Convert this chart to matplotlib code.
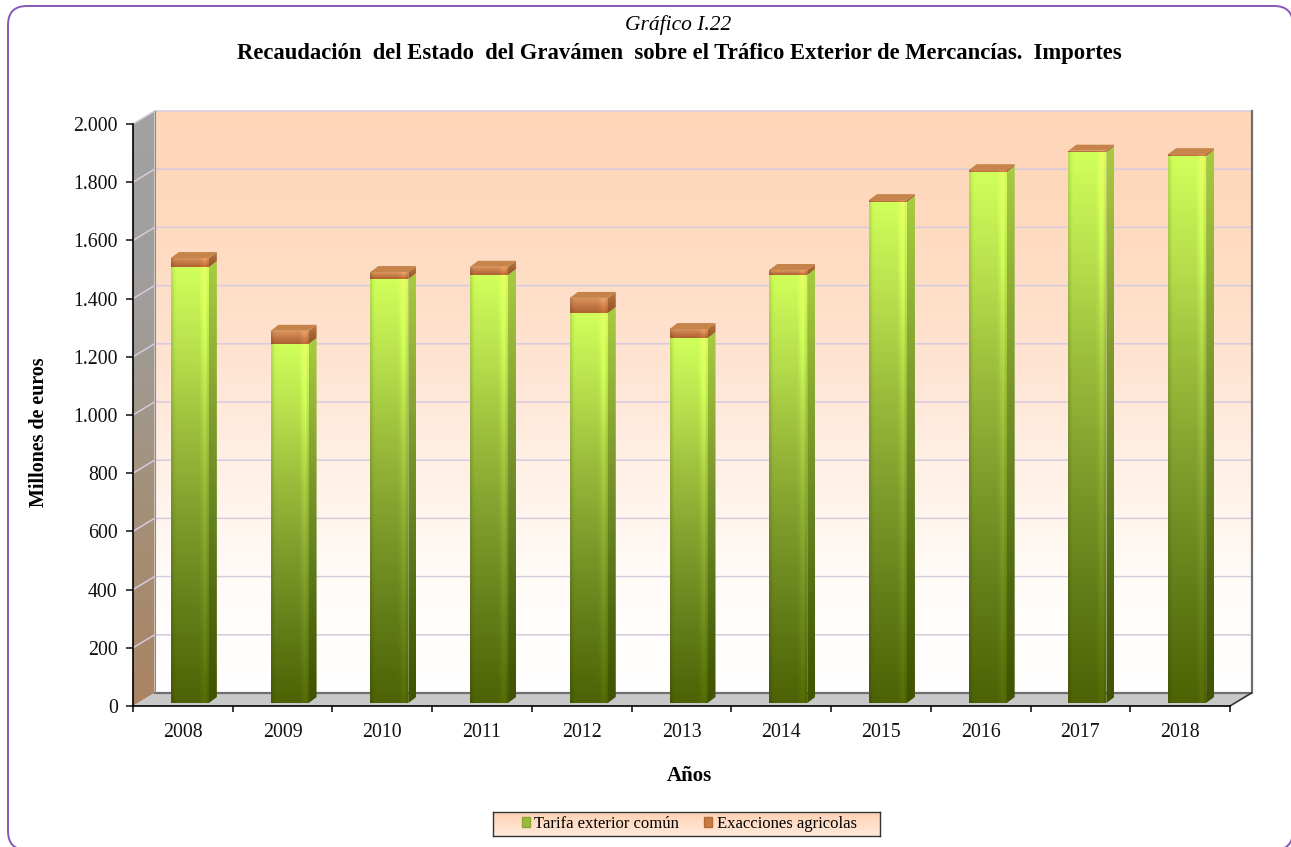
import numpy as np
import matplotlib
matplotlib.use('Agg')
import matplotlib.pyplot as plt
from matplotlib.colors import LinearSegmentedColormap
from matplotlib.patches import FancyBboxPatch, Patch, Polygon
from matplotlib.ticker import FuncFormatter

plt.rcParams['font.family'] = ['Liberation Serif', 'DejaVu Serif']

anios = ['2008', '2009', '2010', '2011', '2012', '2013', '2014', '2015', '2016', '2017', '2018']
tarifa = [1498, 1234, 1457, 1471, 1340, 1254, 1471, 1722, 1825, 1893, 1880]
exacciones = [31, 45, 24, 28, 52, 31, 17, 6, 6, 5, 6]
ticks_y = [0, 200, 400, 600, 800, 1000, 1200, 1400, 1600, 1800, 2000]

W, H = 1291, 847
fig = plt.figure(figsize=(W / 100, H / 100), dpi=100, facecolor='white')

# marco redondeado (se sale un poco por abajo)
marco = fig.add_axes([0, 0, 1, 1], zorder=0)
marco.set_xlim(0, W)
marco.set_ylim(H, 0)
marco.axis('off')
marco.add_patch(FancyBboxPatch((28, 26), W - 46, H + 3 - 46, boxstyle='round,pad=20,rounding_size=19',
                               fc='white', ec='#8A55B8', lw=1.4))

x0, x1, y0, y1 = 133, 1230, 706, 124
ax = fig.add_axes([x0 / W, 1 - y0 / H, (x1 - x0) / W, (y0 - y1) / H], zorder=1)
ax.patch.set_alpha(0)
ax.set_xlim(0, 11)
ax.set_ylim(0, 2000)

# pixeles a unidades de datos
px = 11 / (x1 - x0)
py = 2000 / (y0 - y1)
fondo_x, fondo_y = 21.5 * px, 13 * py


def gradiente(colores, forma, brillo=None, zorder=1):
    # cara con degradado vertical, recortada a su poligono
    cmap = LinearSegmentedColormap.from_list('g', colores)
    img = cmap(np.linspace(0, 1, 128))[:, :3][:, None, :]
    if brillo is not None:
        img = np.clip(img * np.array(brillo)[None, :, None], 0, 1)
    xs = [p[0] for p in forma]
    ys = [p[1] for p in forma]
    im = ax.imshow(img, extent=(min(xs), max(xs), min(ys), max(ys)), origin='upper', aspect='auto',
                   interpolation='bilinear', zorder=zorder)
    pol = Polygon(forma, closed=True, transform=ax.transData, fc='none', ec='none')
    im.set_clip_box(fig.bbox)
    im.set_clip_path(pol)


# paredes y suelo
gradiente(['#FED6B8', '#FEDABF', '#FFE2CF', '#FFEFE4', '#FFFBF7', '#FFFFFF'],
          [(fondo_x, fondo_y), (11 + fondo_x, fondo_y), (11 + fondo_x, 2000 + fondo_y), (fondo_x, 2000 + fondo_y)])
gradiente(['#A2A2A2', '#A09D9B', '#A39078', '#AA8464'],
          [(0, 0), (fondo_x, fondo_y), (fondo_x, 2000 + fondo_y), (0, 2000)])
ax.add_patch(Polygon([(0, 0), (11, 0), (11 + fondo_x, fondo_y), (fondo_x, fondo_y)], closed=True,
                     fc='#C8C8C8', ec='none', zorder=1.1, clip_on=False))

for v in ticks_y[1:]:
    ax.plot([0, fondo_x, 11 + fondo_x], [v, v + fondo_y, v + fondo_y], color='#D6CBDF', lw=1.1,
            zorder=1.2, clip_on=False)
ax.plot([fondo_x, 11 + fondo_x, 11 + fondo_x], [fondo_y, fondo_y, 2000 + fondo_y], color='#6E6E6E', lw=1.6,
        zorder=1.3, clip_on=False)
ax.plot([fondo_x, fondo_x], [fondo_y, 2000 + fondo_y], color='#8A8A8A', lw=0.8, zorder=1.3, clip_on=False)
ax.plot([11, 11 + fondo_x], [0, fondo_y], color='#333333', lw=1.2, zorder=1.3, clip_on=False)

# barras apiladas
ancho = 38 * px
lado_x, lado_y = 8 * px, 6 * py
base = 3 * py
margen = -12 * px
brillo_frente = [0.88, 0.97, 1, 1, 1, 1, 1, 1, 1, 1, 1, 1, 1, 1.04, 1.1, 1.12, 1.0]
verde = ['#D0FF5A', '#B6DE4C', '#98B93A', '#7C9A2A', '#627D18', '#4D6204']
verde_lado = ['#A8CC40', '#92B236', '#7A972B', '#62801E', '#4E660E', '#3F5200']
marron = ['#DC9860', '#AE6030']
marron_lado = ['#C07C44', '#8E4F22']

for i in range(len(anios)):
    izq = i + 0.5 + margen
    der = izq + ancho
    v1 = base + tarifa[i]
    v2 = v1 + exacciones[i]
    gradiente(verde, [(izq, base), (der, base), (der, v1), (izq, v1)], brillo_frente, zorder=2)
    gradiente(verde_lado, [(der, base), (der + lado_x, base + lado_y), (der + lado_x, v1 + lado_y), (der, v1)], zorder=2)
    gradiente(marron, [(izq, v1), (der, v1), (der, v2), (izq, v2)], brillo_frente, zorder=2)
    gradiente(marron_lado, [(der, v1), (der + lado_x, v1 + lado_y), (der + lado_x, v2 + lado_y), (der, v2)], zorder=2)
    ax.add_patch(Polygon([(izq, v2), (der, v2), (der + lado_x, v2 + lado_y), (izq + lado_x, v2 + lado_y)], closed=True,
                         fc='#C6844A', ec='none', zorder=2.1, clip_on=False))

# ejes
for lado in ['top', 'right']:
    ax.spines[lado].set_visible(False)
for lado in ['left', 'bottom']:
    ax.spines[lado].set_linewidth(1.2)
    ax.spines[lado].set_zorder(3)
ax.set_yticks(ticks_y)
ax.yaxis.set_major_formatter(FuncFormatter(lambda v, p: f'{int(v):,}'.replace(',', '.')))
ax.set_xticks(range(12))
ax.set_xticklabels([])
ax.set_xticks(np.arange(len(anios)) + 0.5, anios, minor=True)
ax.tick_params(axis='x', which='major', length=4.5, width=1.1)
ax.tick_params(axis='x', which='minor', length=0, pad=12, labelsize=14.3, colors='#111111')
ax.tick_params(axis='y', length=5, width=1.1, pad=6, labelsize=14.3, colors='#111111')

fig.text(39 / W, 1 - 432 / H, 'Millones de euros', rotation=90, ha='center', va='center', fontsize=14.4, fontweight='bold')
fig.text(689 / W, 1 - 776 / H, 'Años', ha='center', va='center', fontsize=15, fontweight='bold')
fig.text(678 / W, 1 - 25.5 / H, 'Gráfico I.22', ha='center', va='center', fontsize=15.5, style='italic')
fig.text(679 / W, 1 - 53.5 / H, 'Recaudación  del Estado  del Gravámen  sobre el Tráfico Exterior de Mercancías.  Importes',
         ha='center', va='center', fontsize=16.3, fontweight='bold')

# leyenda
ley = fig.add_axes([493 / W, 1 - 836 / H, (880 - 493) / W, 24 / H], zorder=2)
ley.imshow(LinearSegmentedColormap.from_list('l', ['#FFD3B4', '#FFE9DA'])(np.linspace(0, 1, 32))[:, :3][:, None, :],
           aspect='auto', extent=(0, 1, 0, 1), origin='upper', interpolation='bilinear')
ley.set_xticks([])
ley.set_yticks([])
for s in ley.spines.values():
    s.set_color('#333333')
    s.set_linewidth(1.0)
ley.legend(handles=[Patch(fc='#9CBB3A', ec='#8AA830', label='Tarifa exterior común'),
                    Patch(fc='#C47B45', ec='#B26A35', label='Exacciones agricolas')],
           loc='center', ncol=2, frameon=False, fontsize=12, handlelength=0.5, handleheight=0.5,
           handletextpad=0.25, columnspacing=1.5, borderpad=0, bbox_to_anchor=(0.507, 0.5))

fig.savefig('out.png', dpi=100)
